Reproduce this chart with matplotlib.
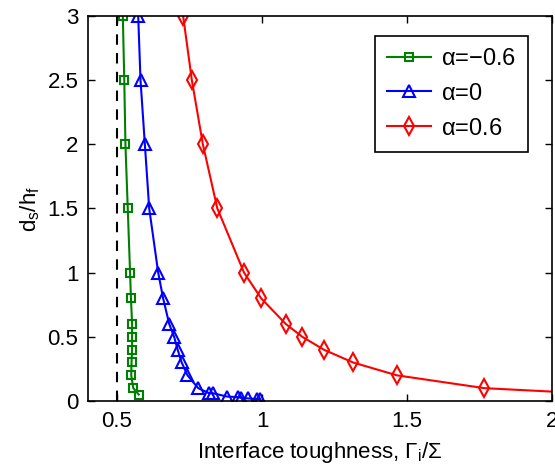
import matplotlib
matplotlib.use("Agg")
import matplotlib.pyplot as plt

# alpha = -0.6
x_neg = [0.520, 0.525, 0.529, 0.537, 0.545, 0.548, 0.552, 0.552, 0.552, 0.550, 0.549, 0.556, 0.575]
y_neg = [3.0, 2.5, 2.0, 1.5, 1.0, 0.8, 0.6, 0.5, 0.4, 0.3, 0.2, 0.1, 0.05]

# alpha = 0
x_zero = [0.573, 0.581, 0.596, 0.611, 0.642, 0.659, 0.680, 0.697, 0.709, 0.723, 0.743,
          0.780, 0.818, 0.832, 0.878, 0.918, 0.927, 0.952, 0.983, 0.992]
y_zero = [3.0, 2.5, 2.0, 1.5, 1.0, 0.8, 0.6, 0.5, 0.4, 0.3, 0.2,
          0.1, 0.06, 0.06, 0.035, 0.03, 0.025, 0.02, 0.015, 0.012]

# alpha = 0.6
x_pos = [0.728, 0.758, 0.796, 0.846, 0.938, 0.997, 1.082, 1.139, 1.213, 1.314, 1.465, 1.767, 2.2]
y_pos = [3.0, 2.5, 2.0, 1.5, 1.0, 0.8, 0.6, 0.5, 0.4, 0.3, 0.2, 0.1, 0.05]

labels = [r"$\alpha$=$-$0.6", r"$\alpha$=0", r"$\alpha$=0.6"]
x_ticks = [0.5, 1, 1.5, 2]
y_ticks = [0, 0.5, 1, 1.5, 2, 2.5, 3]

plt.rcParams['font.family'] = ['Liberation Sans', 'DejaVu Sans']
plt.rcParams['mathtext.fontset'] = 'custom'
plt.rcParams['mathtext.rm'] = 'Liberation Sans'
plt.rcParams['mathtext.it'] = 'Liberation Sans'
plt.rcParams['mathtext.default'] = 'regular'

fig = plt.figure(figsize=(5.55, 4.69), dpi=100)
ax = fig.add_axes([0.1586, 0.145, 0.836, 0.821])

ax.plot([0.5, 0.5], [0, 3], '--', color='black', lw=1.5, dashes=(5, 4))
ax.plot(x_neg, y_neg, '-s', color=(0, 0.5, 0), lw=1.5, ms=6, mfc='none', mew=1.5, label=labels[0])
ax.plot(x_zero, y_zero, '-^', color='blue', lw=1.5, ms=8, mfc='none', mew=1.5, label=labels[1])
ax.plot(x_pos, y_pos, '-d', color='red', lw=1.5, ms=9, mfc='none', mew=1.5, label=labels[2])

ax.set_xlim(0.4, 2)
ax.set_ylim(0, 3)
ax.set_xticks(x_ticks)
ax.set_xticklabels(['0.5', '1', '1.5', '2'])
ax.set_yticks(y_ticks)
ax.set_yticklabels(['0', '0.5', '1', '1.5', '2', '2.5', '3'])
ax.tick_params(direction='in', top=True, right=True, labelsize=16, length=5, width=1, pad=7)
for s in ax.spines.values():
    s.set_linewidth(1.2)

ax.set_xlabel(r"Interface toughness, $\Gamma_i/\Sigma$", fontsize=16, labelpad=6)
ax.set_ylabel(r"$d_s/h_f$", fontsize=16, labelpad=4)

leg = ax.legend(loc='upper right', fontsize=17, fancybox=False, edgecolor='black',
                framealpha=1, handlelength=1.9, handletextpad=0.4, borderpad=0.5,
                labelspacing=0.55, borderaxespad=0, bbox_to_anchor=(0.948, 0.948))
leg.get_frame().set_linewidth(1.2)

fig.savefig("out.png", dpi=100)
